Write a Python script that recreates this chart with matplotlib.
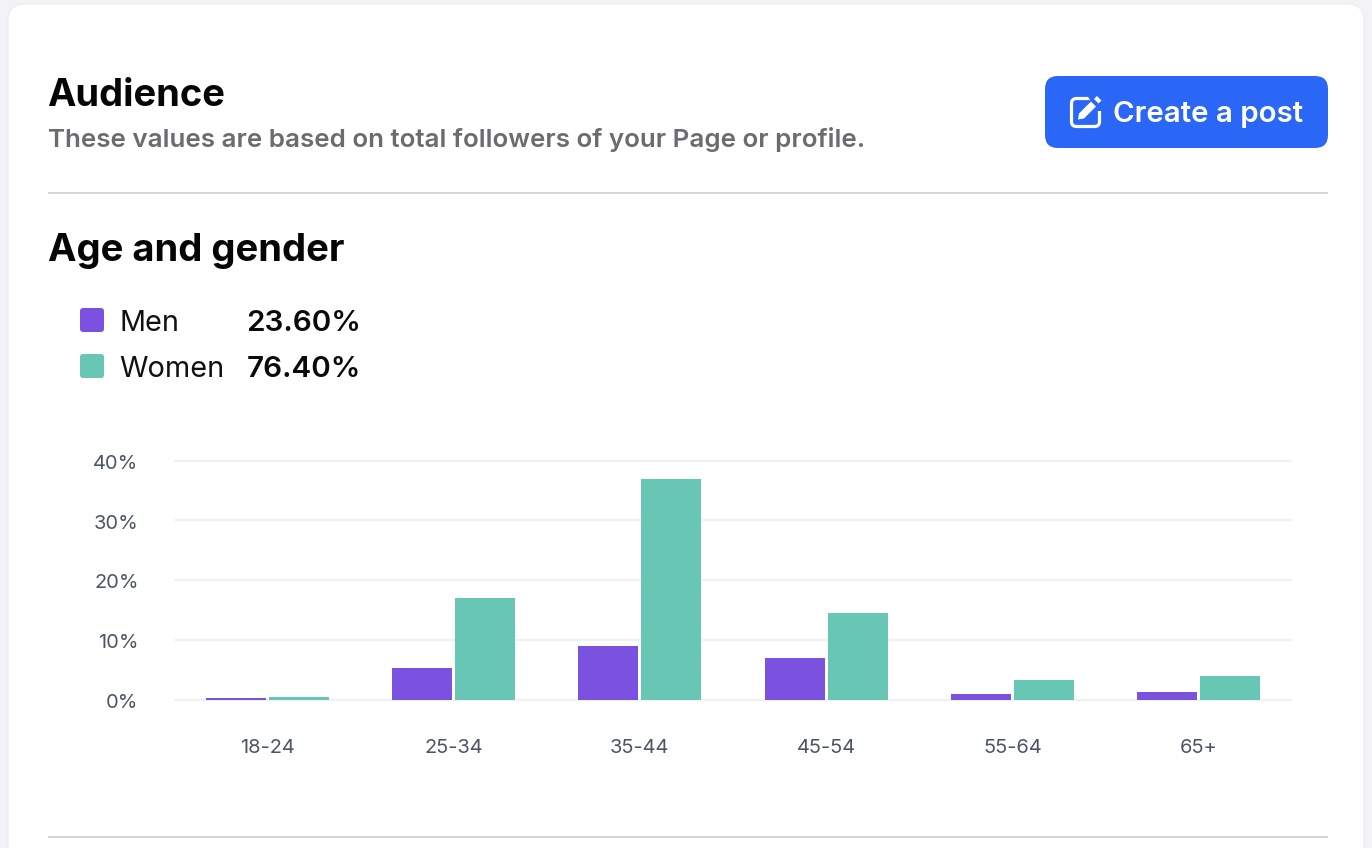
import matplotlib
matplotlib.use("Agg")
import matplotlib.pyplot as plt
from matplotlib.patches import FancyBboxPatch, Polygon
from matplotlib.transforms import ScaledTranslation
import numpy as np

categories = ["18-24", "25-34", "35-44", "45-54", "55-64", "65+"]
men = [0.3, 5.2, 9.0, 6.9, 0.9, 1.2]
women = [0.4, 17.0, 36.9, 14.5, 3.3, 3.9]
y_ticks = [0, 10, 20, 30, 40]
legend_rows = [("Men", "23.60%", "#7B52DF"), ("Women", "76.40%", "#67C6B4")]

MEN_C, WOMEN_C = "#7B52DF", "#67C6B4"
W, H = 1372, 848
plt.rcParams["font.family"] = ["Inter", "DejaVu Sans"]

fig = plt.figure(figsize=(W / 100, H / 100), dpi=100, facecolor="#F2F2F7")
page = fig.add_axes([0, 0, 1, 1], zorder=0)
page.set_xlim(0, W)
page.set_ylim(H, 0)
page.axis("off")

def rbox(ax, x, y, w, h, r, **kw):
    p = FancyBboxPatch((x + r, y + r), w - 2 * r, h - 2 * r,
                       boxstyle=f"round,pad={r},rounding_size={r}", **kw)
    ax.add_patch(p)
    return p

BLUE = "#2B67F6"
rbox(page, 8, 4, 1356, 900, 17, fc="white", ec="#ECECF1", lw=0.8)
page.text(47.5, 95.7, "Audience", fontsize=27.4, fontweight="bold", color="#050505", va="center")
page.text(48, 140, "These values are based on total followers of your Page or profile.",
          fontsize=18.7, fontweight="semibold", color="#6B6C70", va="center")
page.plot([48, 1328], [192.5, 192.5], color="#D3D4D6", lw=1.4, solid_capstyle="butt")
page.plot([48, 1328], [836.5, 836.5], color="#D3D4D6", lw=1.4, solid_capstyle="butt")
page.text(48, 251, "Age and gender", fontsize=27.5, fontweight="bold", color="#050505", va="center")

# Button
rbox(page, 1045, 76, 283, 72, 13, fc=BLUE, ec="none")
page.text(1113, 115, "Create a post", fontsize=21.2, fontweight="semibold", color="white", va="center")
rbox(page, 1071.5, 98.5, 28, 28, 5, fc="none", ec="white", lw=2.3)
page.add_patch(Polygon([[1087, 95], [1104, 95], [1104, 111], [1097, 111]], fc=BLUE, ec="none"))
page.add_patch(Polygon([[1078, 119.5], [1079, 113.5], [1091, 101.5], [1096, 106.5], [1084, 118.5]],
                       fc="white", ec="none"))
page.add_patch(Polygon([[1094, 99], [1097, 96], [1101.5, 100.5], [1098.5, 103.5]], fc="white", ec="none"))

# Legend
for (name, pct, col), y in zip(legend_rows, [320, 366]):
    rbox(page, 80, y - 12, 24, 24, 3, fc=col, ec="none")
    page.text(119.5, y + 3.5, name, fontsize=20.8, color="#111111", va="center")
    page.text(246.5, y + 3.5, pct, fontsize=21.3, fontweight="semibold", color="#0A0A0A", va="center")

# Chart
left, right, top, bottom = 174, 1292, 460.5, 699.5
ax = fig.add_axes([left / W, 1 - bottom / H, (right - left) / W, (bottom - top) / H],
                  facecolor="none", zorder=1)
x = np.arange(len(categories))
ax.set_xlim(-0.5, len(categories) - 0.5)
ax.set_ylim(0, 40)
bw = 60 / ((right - left) / len(categories))
off = 31.5 / ((right - left) / len(categories))
ax.bar(x - off, men, bw, color=MEN_C, zorder=3)
ax.bar(x + off, women, bw, color=WOMEN_C, zorder=3)
ax.set_yticks(y_ticks)
ax.set_yticklabels([f"{v}%" for v in y_ticks])
ax.set_xticks(x)
ax.set_xticklabels(categories)
ax.grid(axis="y", color="#F0F1F3", lw=1.6, zorder=0, solid_capstyle="butt")
ax.set_axisbelow(True)
for s in ax.spines.values():
    s.set_visible(False)
ax.tick_params(axis="y", length=0, pad=25.5, labelsize=14.4, labelcolor="#4B5563")
ax.tick_params(axis="x", length=0, pad=28.5, labelsize=14.4, labelcolor="#4B5563")
for g in ax.get_ygridlines():
    g.set_clip_on(False)
shift = ScaledTranslation(0, -1.5 / 100, fig.dpi_scale_trans)
for lab in ax.get_yticklabels():
    lab.set_transform(lab.get_transform() + shift)

fig.savefig("out.png", dpi=100, facecolor=fig.get_facecolor())
